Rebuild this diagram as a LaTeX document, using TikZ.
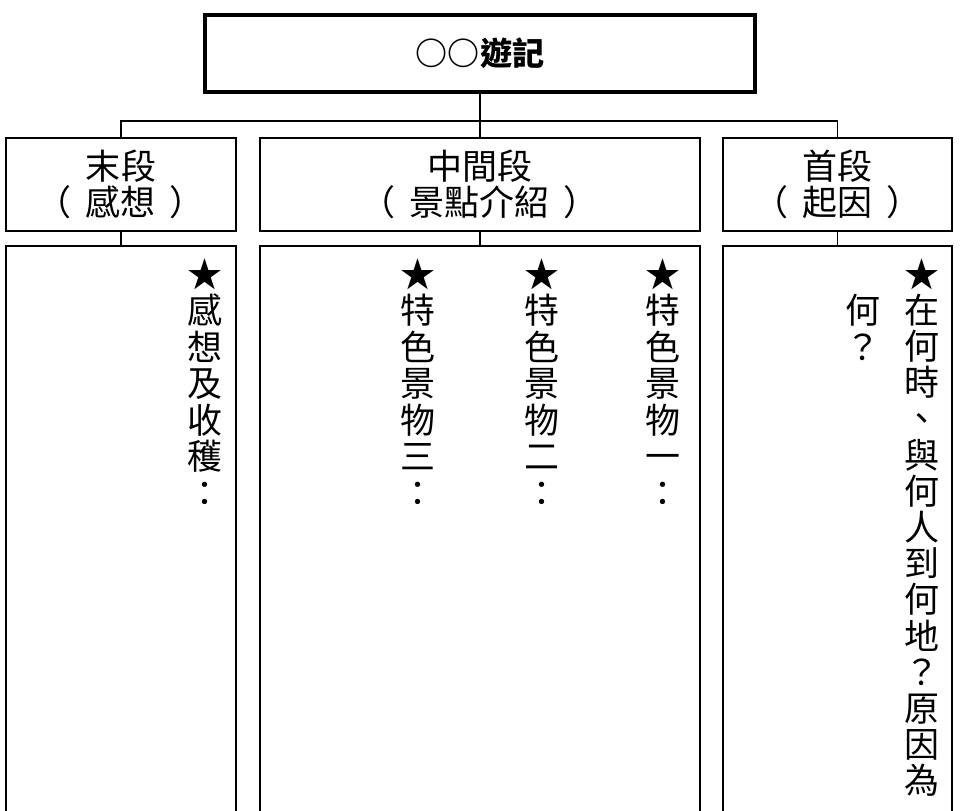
\documentclass[tikz,border=0pt]{standalone}
\usepackage{fontspec}
\newfontfamily\cjk{Noto Sans CJK TC}
\newcommand\paren[1]{（\hspace{0.4em}#1\hspace{0.4em}）}
\tikzset{
  part/.style={draw,line width=1.2pt,inner sep=0pt,align=center,
    font=\cjk\fontsize{24.9pt}{25.6pt}\selectfont},
  column/.style={anchor=north,inner sep=0pt,align=center,
    font=\cjk\fontsize{24.9pt}{26pt}\selectfont},
  link/.style={line width=1.2pt}
}
\begin{document}
\begin{tikzpicture}
\useasboundingbox (0,0) rectangle (24,-20.275);
% title
\node[draw,line width=2.8pt,minimum width=13.75cm,minimum height=1.9375cm,
  font=\cjk\bfseries\fontsize{22.8pt}{24pt}\selectfont] (title) at(12,-1.34){○○遊記};
% three parts
\node[part,minimum width=5.75cm,minimum height=2.325cm] (lhead) at(3.025,-4.6125){末段\\\paren{感想}};
\node[part,minimum width=11cm,minimum height=2.325cm] (mhead) at(12,-4.6125){中間段\\\paren{景點介紹}};
\node[part,minimum width=5.725cm,minimum height=2.325cm] (rhead) at(20.9375,-4.6125){首段\\\paren{起因}};
\node[part,minimum width=5.75cm,minimum height=14.85cm] (lbody) at(3.025,-13.575){};
\node[part,minimum width=11cm,minimum height=14.85cm] (mbody) at(12,-13.575){};
\node[part,minimum width=5.725cm,minimum height=14.85cm] (rbody) at(20.9375,-13.575){};
% connectors
\coordinate (bar) at(12,-3.025);
\draw[link] (title.south) -- (mhead.north);
\draw[link] (lhead.north) |- (bar) -| (rhead.north);
\draw[link] (lhead.south) -- (lbody.north);
\draw[link] (mhead.south) -- (mbody.north);
\draw[link] (rhead.south) -- (rbody.north);
% vertical writing
\node[column] (feel) at(5.125,-6.45){★\\感\\想\\及\\收\\穫\\：};
\node[column] (spot3) at(10.45,-6.45){★\\特\\色\\景\\物\\三\\：};
\node[column] (spot2) at(13.55,-6.45){★\\特\\色\\景\\物\\二\\：};
\node[column] (spot1) at(16.575,-6.45){★\\特\\色\\景\\物\\一\\：};
\node[column,font=\cjk\fontsize{24.9pt}{25.75pt}\selectfont] (cause) at(23.05,-6.45){★\\在\\何\\時\\、\\與\\何\\人\\到\\何\\地\\？\\原\\因\\為};
\node[column,font=\cjk\fontsize{24.9pt}{25.75pt}\selectfont] (causeb) at(21.575,-7.355){何\\？};
\end{tikzpicture}
\end{document}
